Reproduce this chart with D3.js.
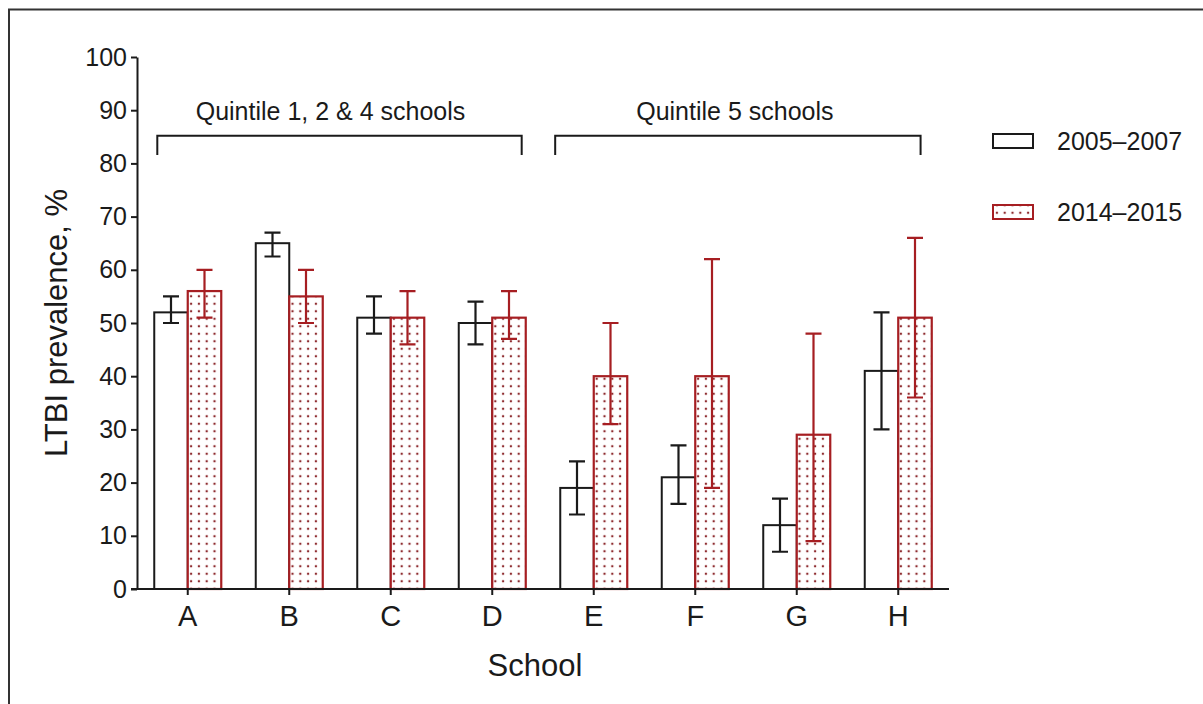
<!DOCTYPE html>
<html>
<head>
<meta charset="utf-8">
<script src="https://cdn.jsdelivr.net/npm/d3@7"></script>
<style>
  html, body { margin: 0; padding: 0; background: #fff; }
  svg { display: block; }
  text { font-family: "Liberation Sans", Arial, Helvetica, sans-serif; fill: #1a1a1a; }
</style>
</head>
<body>
<svg id="chart" width="1203" height="704"></svg>
<script>
// Schools and LTBI prevalence (%) with 95% CI bounds for the two survey periods
const schools = ["A", "B", "C", "D", "E", "F", "G", "H"];
const period1Label = "2005\u20132007";
const period2Label = "2014\u20132015";
const prev0507 = [52, 65, 51, 50, 19, 21, 12, 41];
const low0507  = [50, 62.5, 48, 46, 14, 16, 7, 30];
const high0507 = [55, 67, 55, 54, 24, 27, 17, 52];
const prev1415 = [56, 55, 51, 51, 40, 40, 29, 51];
const low1415  = [51, 50, 46, 47, 31, 19, 9, 36];
const high1415 = [60, 60, 56, 56, 50, 62, 48, 66];
const yTicks = [0, 10, 20, 30, 40, 50, 60, 70, 80, 90, 100];
const groupLabels = ["Quintile 1, 2 & 4 schools", "Quintile 5 schools"];
const groupFirst = ["A", "E"];
const groupLast = ["D", "H"];

const BLACK = "#1a1a1a";
const RED = "#a61e22";

const svg = d3.select("#chart");

// outer frame (top and left edges)
svg.append("path")
  .attr("d", "M9,704 V9.5 H1203")
  .attr("fill", "none").attr("stroke", "#333").attr("stroke-width", 2);

// dotted fill for the later period
const defs = svg.append("defs");
const pat = defs.append("pattern")
  .attr("id", "dots").attr("patternUnits", "userSpaceOnUse")
  .attr("width", 7.8).attr("height", 7.5);
pat.append("rect").attr("width", 7.8).attr("height", 7.5).attr("fill", "#fff");
pat.append("circle").attr("cx", 3.9).attr("cy", 3.75).attr("r", 1.2).attr("fill", "#8e2a2e");

const plotLeft = 137, plotRight = 949, plotTop = 57, plotBottom = 589;

const x = d3.scaleBand().domain(schools).range([plotLeft, plotRight]).padding(0);
const y = d3.scaleLinear().domain([0, 100]).range([plotBottom, plotTop]);
const barW = 33.5;
const capW = 16;

const rows = schools.map((s, i) => ({
  s,
  a: { v: prev0507[i], lo: low0507[i], hi: high0507[i] },
  b: { v: prev1415[i], lo: low1415[i], hi: high1415[i] }
}));

const cx = s => x(s) + x.bandwidth() / 2;

// bars
const g = svg.append("g");
g.selectAll("rect.p1").data(rows).join("rect")
  .attr("class", "p1")
  .attr("x", d => cx(d.s) - barW).attr("y", d => y(d.a.v))
  .attr("width", barW).attr("height", d => y(0) - y(d.a.v))
  .attr("fill", "#fff").attr("stroke", BLACK).attr("stroke-width", 2);

g.selectAll("rect.p2").data(rows).join("rect")
  .attr("class", "p2")
  .attr("x", d => cx(d.s)).attr("y", d => y(d.b.v))
  .attr("width", barW).attr("height", d => y(0) - y(d.b.v))
  .attr("fill", "url(#dots)").attr("stroke", RED).attr("stroke-width", 2.2);

// error bars
function errorBars(key, dx, color) {
  const eg = svg.append("g").attr("stroke", color).attr("stroke-width", 2.2).attr("fill", "none");
  eg.selectAll("path").data(rows).join("path")
    .attr("d", d => {
      const xc = cx(d.s) + dx;
      const hi = y(d[key].hi), lo = y(d[key].lo);
      return `M${xc - capW / 2},${hi}H${xc + capW / 2}M${xc},${hi}V${lo}M${xc - capW / 2},${lo}H${xc + capW / 2}`;
    });
}
errorBars("a", -barW / 2, BLACK);
errorBars("b", barW / 2, RED);

// y axis
const yAxis = svg.append("g")
  .attr("transform", `translate(${plotLeft},0)`)
  .call(d3.axisLeft(y).tickValues(yTicks).tickSize(6).tickPadding(4).tickSizeOuter(0));
yAxis.select(".domain").attr("stroke", BLACK).attr("stroke-width", 2);
yAxis.selectAll(".tick line").attr("stroke", BLACK).attr("stroke-width", 2);
yAxis.selectAll(".tick text").attr("font-size", 25).attr("fill", BLACK)
  .attr("font-family", "Liberation Sans, Arial, sans-serif");

// x axis
const xAxis = svg.append("g")
  .attr("transform", `translate(0,${plotBottom})`)
  .call(d3.axisBottom(x).tickSize(6).tickPadding(10).tickSizeOuter(0));
xAxis.select(".domain").attr("stroke", BLACK).attr("stroke-width", 2)
  .attr("d", `M${plotLeft - 6},0H${plotRight}`);
xAxis.selectAll(".tick line").attr("stroke", BLACK).attr("stroke-width", 2);
xAxis.selectAll(".tick text").attr("font-size", 29).attr("fill", BLACK)
  .attr("font-family", "Liberation Sans, Arial, sans-serif");

// axis titles
svg.append("text")
  .attr("transform", `translate(67,${(plotTop + plotBottom) / 2}) rotate(-90)`)
  .attr("text-anchor", "middle").attr("font-size", 31)
  .text("LTBI prevalence, %");
svg.append("text")
  .attr("x", 535).attr("y", 676)
  .attr("text-anchor", "middle").attr("font-size", 31)
  .text("School");

// group brackets
const step = x.step();
const bracketStart = [0.2, 0.12];
const bracketEnd = [0.79, 0.72];
const labelShift = [-9, -3];
groupLabels.forEach((lab, i) => {
  const x0 = x(groupFirst[i]) + bracketStart[i] * step;
  const x1 = x(groupLast[i]) + bracketEnd[i] * step;
  const yb = y(85.2), yt = y(81.6);
  svg.append("path")
    .attr("d", `M${x0},${yt}V${yb}H${x1}V${yt}`)
    .attr("fill", "none").attr("stroke", BLACK).attr("stroke-width", 2);
  svg.append("text")
    .attr("x", (x0 + x1) / 2 + labelShift[i]).attr("y", y(88.1))
    .attr("text-anchor", "middle").attr("font-size", 25)
    .text(lab);
});

// legend
const legend = svg.append("g").attr("transform", "translate(993,134)");
const items = [
  { label: period1Label, fill: "#fff", stroke: BLACK },
  { label: period2Label, fill: "url(#dots)", stroke: RED }
];
items.forEach((it, i) => {
  const gy = i * 71;
  legend.append("rect")
    .attr("x", 0).attr("y", gy).attr("width", 40).attr("height", 14)
    .attr("fill", it.fill).attr("stroke", it.stroke).attr("stroke-width", 2);
  legend.append("text")
    .attr("x", 64).attr("y", gy + 7).attr("dy", "0.35em")
    .attr("font-size", 25)
    .text(it.label);
});
</script>
</body>
</html>
